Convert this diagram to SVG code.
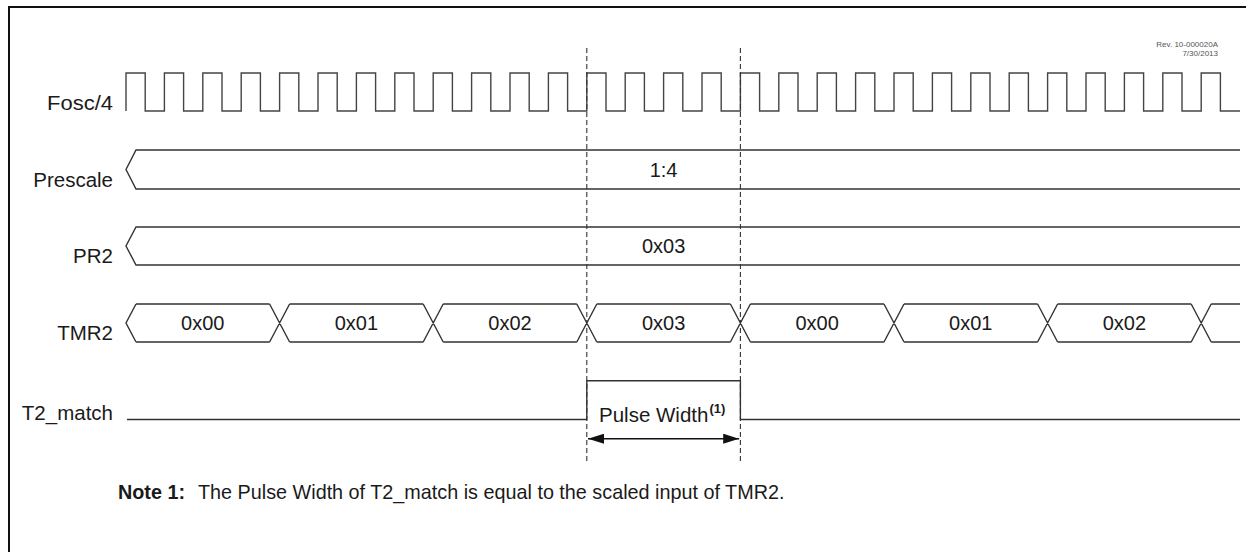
<svg xmlns="http://www.w3.org/2000/svg" width="1246" height="552" viewBox="0 0 1246 552">
<style>
  text { font-family: "Liberation Sans", Arial, sans-serif; fill: #1a1a1a; }
  .lbl { font-size: 20.5px; text-anchor: end; }
  .val { font-size: 20px; text-anchor: middle; }
  .sig { fill: none; stroke: #333; stroke-width: 1.4; stroke-linejoin: miter; }
  .clk { fill: none; stroke: #444; stroke-width: 1.4; }
  .dash { stroke: #333; stroke-width: 1.1; stroke-dasharray: 5 3; fill: none; }
  .rev { font-size: 8px; fill: #555; text-anchor: end; }
  .note { font-size: 19.8px; }
</style>
<defs>
  <marker id="ah" markerWidth="16" markerHeight="10" refX="16" refY="5" orient="auto-start-reverse" markerUnits="userSpaceOnUse">
    <polygon points="0,0 16,5 0,10" fill="#111"/>
  </marker>
</defs>
<rect width="1246" height="552" fill="#fff"/>
<g id="frame">
  <path d="M9,552 V7 H1246" fill="none" stroke="#111" stroke-width="2"/>
</g>
<g id="rev">
  <text class="rev" x="1218" y="47">Rev. 10-000020A</text>
  <text class="rev" x="1218" y="56">7/30/2013</text>
</g>
<g id="fosc">
  <text class="lbl" x="113" y="110" textLength="66" lengthAdjust="spacingAndGlyphs">Fosc/4</text>
  <path class="clk" d="M126,111 V73 H145.2 V111 H164.4 V73 H183.6 V111 H202.8 V73 H222 V111 H241.2 V73 H260.4 V111 H279.6 V73 H298.8 V111 H318 V73 H337.2 V111 H356.4 V73 H375.6 V111 H394.8 V73 H414 V111 H433.2 V73 H452.4 V111 H471.6 V73 H490.8 V111 H510 V73 H529.2 V111 H548.4 V73 H567.6 V111 H586.8 V73 H606 V111 H625.2 V73 H644.4 V111 H663.6 V73 H682.8 V111 H702 V73 H721.2 V111 H740.4 V73 H759.6 V111 H778.8 V73 H798 V111 H817.2 V73 H836.4 V111 H855.6 V73 H874.8 V111 H894 V73 H913.2 V111 H932.4 V73 H951.6 V111 H970.8 V73 H990 V111 H1009.2 V73 H1028.4 V111 H1047.6 V73 H1066.8 V111 H1086 V73 H1105.2 V111 H1124.4 V73 H1143.6 V111 H1162.8 V73 H1182 V111 H1201.2 V73 H1220.4 V111 H1240"/>
</g>
<g id="prescale">
  <text class="lbl" x="113" y="187">Prescale</text>
  <path class="sig" d="M1240,150 H136 L126,169.5 L136,189 H1240"/>
  <text class="val" x="663.6" y="177">1:4</text>
</g>
<g id="pr2">
  <text class="lbl" x="113" y="263">PR2</text>
  <path class="sig" d="M1240,227 H136 L126,246 L136,265 H1240"/>
  <text class="val" x="663.6" y="253">0x03</text>
</g>
<g id="tmr2">
  <text class="lbl" x="113" y="340">TMR2</text>
  <path class="sig" d="M136,304 L126,323 L136,342
    M136,304 H269.6 M289.6,304 H423.2 M443.2,304 H576.8 M596.8,304 H730.4 M750.4,304 H884 M904,304 H1037.6 M1057.6,304 H1191.2 M1211.2,304 H1240
    M136,342 H269.6 M289.6,342 H423.2 M443.2,342 H576.8 M596.8,342 H730.4 M750.4,342 H884 M904,342 H1037.6 M1057.6,342 H1191.2 M1211.2,342 H1240
    M269.6,304 L289.6,342 M269.6,342 L289.6,304
    M423.2,304 L443.2,342 M423.2,342 L443.2,304
    M576.8,304 L596.8,342 M576.8,342 L596.8,304
    M730.4,304 L750.4,342 M730.4,342 L750.4,304
    M884,304 L904,342 M884,342 L904,304
    M1037.6,304 L1057.6,342 M1037.6,342 L1057.6,304
    M1191.2,304 L1211.2,342 M1191.2,342 L1211.2,304"/>
  <text class="val" x="202.8" y="330">0x00</text>
  <text class="val" x="356.4" y="330">0x01</text>
  <text class="val" x="510" y="330">0x02</text>
  <text class="val" x="663.6" y="330">0x03</text>
  <text class="val" x="817.2" y="330">0x00</text>
  <text class="val" x="970.8" y="330">0x01</text>
  <text class="val" x="1124.4" y="330">0x02</text>
</g>
<g id="t2match">
  <text class="lbl" x="113" y="420">T2_match</text>
  <path class="sig" d="M127,419.5 H586.8 V380.7 H740.4 V419.5 H1240"/>
  <text x="599" y="422" font-size="20.5">Pulse Width<tspan font-size="13" font-weight="bold" dy="-9" dx="1">(1)</tspan></text>
</g>
<g id="connectors">
  <line class="dash" x1="586.8" y1="48" x2="586.8" y2="463"/>
  <line class="dash" x1="740.4" y1="48" x2="740.4" y2="463"/>
  <line x1="588" y1="438.7" x2="739.2" y2="438.7" stroke="#111" stroke-width="1.4" marker-start="url(#ah)" marker-end="url(#ah)"/>
</g>
<g id="note">
  <text class="note" x="118" y="499" font-weight="bold">Note 1:</text>
  <text class="note" x="198" y="499">The Pulse Width of T2_match is equal to the scaled input of TMR2.</text>
</g>
</svg>
